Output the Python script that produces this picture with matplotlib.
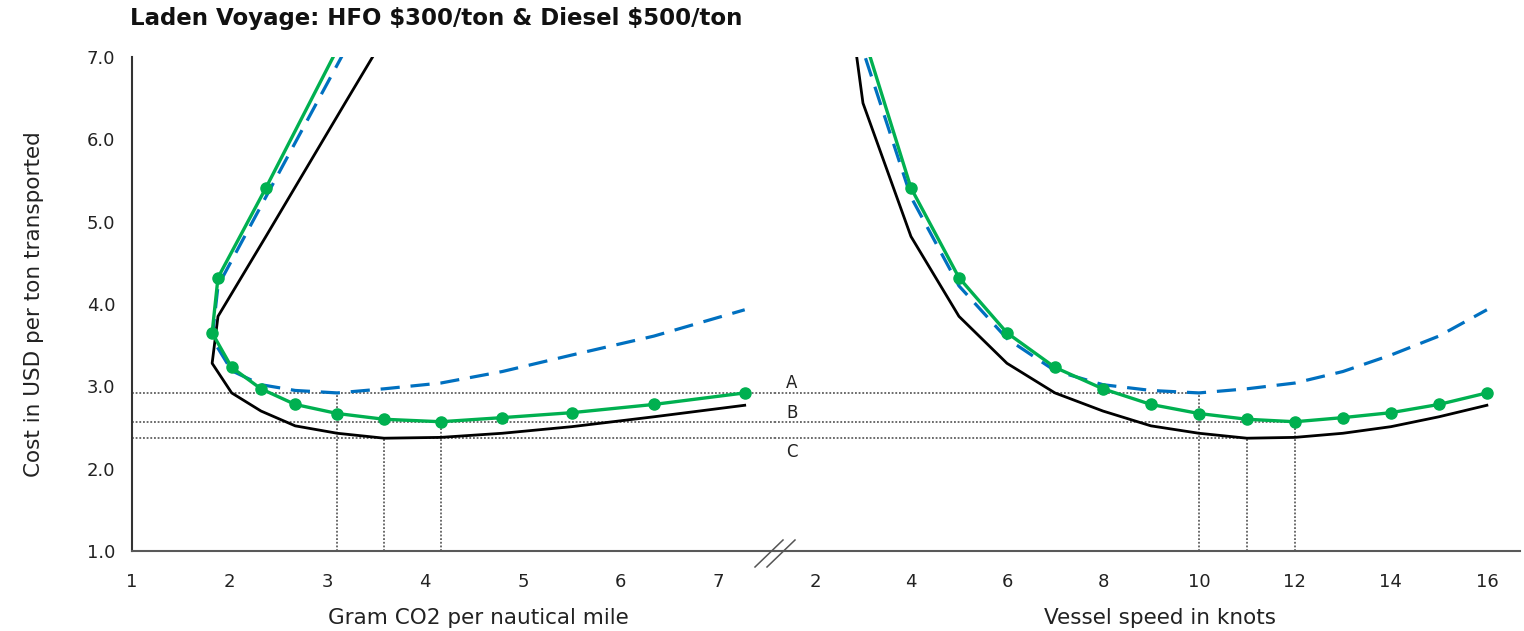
import matplotlib.pyplot as plt

# speed (knots) and the matching CO2 per nautical mile
speed = [2, 3, 4, 5, 6, 7, 8, 9, 10, 11, 12, 13, 14, 15, 16]
co2 = [5.35, 3.18, 2.37, 1.88, 1.82, 2.02, 2.32, 2.67, 3.10, 3.58, 4.16, 4.79, 5.50, 6.34, 7.27]

# cost in USD per ton transported
cost_black = [10.75, 6.44, 4.82, 3.85, 3.28, 2.92, 2.70, 2.52, 2.43, 2.37, 2.38, 2.43, 2.51, 2.63, 2.77]
cost_blue = [11.50, 7.08, 5.30, 4.22, 3.58, 3.19, 3.02, 2.95, 2.92, 2.97, 3.04, 3.18, 3.38, 3.61, 3.93]
cost_green = [11.90, 7.28, 5.41, 4.32, 3.65, 3.23, 2.97, 2.78, 2.67, 2.60, 2.57, 2.62, 2.68, 2.78, 2.92]

yticks = [1.0, 2.0, 3.0, 4.0, 5.0, 6.0, 7.0]
co2_ticks = [1, 2, 3, 4, 5, 6, 7]
speed_ticks = [2, 4, 6, 8, 10, 12, 14, 16]
ref_labels = ["A", "B", "C"]

GREEN = "#00b050"
BLUE = "#0070c0"
AXC = "#595959"
W, H = 1524, 631

fig = plt.figure(figsize=(W / 100, H / 100), dpi=100)
ax1 = fig.add_axes([132 / W, 80 / H, 643 / W, 494 / H])
ax2 = fig.add_axes([775 / W, 80 / H, 745 / W, 494 / H], sharey=ax1)


def draw_curves(ax, xs):
    ax.plot(xs, cost_black, color="black", lw=2.0, zorder=3)
    ax.plot(xs, cost_blue, color=BLUE, lw=2.3, dashes=(6, 3.4), zorder=4)
    ax.plot(xs, cost_green, color=GREEN, lw=2.4, marker="o", ms=8, zorder=5)


draw_curves(ax1, co2)
draw_curves(ax2, speed)

# minima -> reference lines A (blue), B (green), C (black)
mins = []
for c in (cost_blue, cost_green, cost_black):
    i = c.index(min(c))
    mins.append((c[i], co2[i], speed[i]))

dot = (0, (1.2, 1.2))
for y, x_co2, x_sp in mins:
    ax1.axhline(y, color="#444444", lw=1.1, ls=dot, zorder=2)
    ax2.hlines(y, 1.0, x_sp, color="#444444", lw=1.1, ls=dot, zorder=2)
    ax1.vlines(x_co2, 1.0, y, color="#444444", lw=1.1, ls=dot, zorder=2)
    ax2.vlines(x_sp, 1.0, y, color="#444444", lw=1.1, ls=dot, zorder=2)

label_y = [mins[0][0] + 0.12, mins[1][0] + 0.11, mins[2][0] - 0.17]
for lab, y in zip(ref_labels, label_y):
    ax2.text(1.52, y, lab, fontsize=12, color="#222222", ha="center", va="center")

ax1.set_ylim(1.0, 7.0)
ax1.set_xlim(1, 7.58)
ax2.set_xlim(1.167, 16.69)
ax1.set_yticks(yticks)
ax1.set_yticklabels(["%.1f" % v for v in yticks])
ax1.set_xticks(co2_ticks)
ax2.set_xticks(speed_ticks)

for ax in (ax1, ax2):
    ax.spines["top"].set_visible(False)
    ax.spines["right"].set_visible(False)
    ax.spines["bottom"].set_color(AXC)
    ax.spines["bottom"].set_linewidth(1.5)
    ax.tick_params(axis="x", length=0, pad=16, labelsize=13, labelcolor="#222222")
    ax.tick_params(axis="y", length=0, pad=12, labelsize=13, labelcolor="#222222")
ax1.spines["left"].set_color("#333333")
ax1.spines["left"].set_linewidth(1.5)
ax2.spines["left"].set_visible(False)
ax2.tick_params(axis="y", labelleft=False)

ax1.set_xlabel("Gram CO2 per nautical mile", fontsize=15.5, color="#222222")
ax1.xaxis.set_label_coords(0.539, -0.115)
ax2.set_xlabel("Vessel speed in knots", fontsize=15.5, color="#222222")
ax2.xaxis.set_label_coords(0.517, -0.115)
ax1.set_ylabel("Cost in USD per ton transported", fontsize=15.5, color="#222222")
ax1.yaxis.set_label_coords(-0.137, 0.5)

# axis break marks
for dx in (0, 12):
    fig.add_artist(plt.Line2D([(755 + dx) / W, (783 + dx) / W], [1 - 567 / H, 1 - 540 / H],
                              color="#555555", lw=1.1))

fig.text(130 / W, 1 - 19 / H, r"Laden Voyage: HFO \$300/ton & Diesel \$500/ton",
         fontsize=16.5, fontweight="bold", color="#111111", va="center", ha="left")

fig.savefig("out.png", dpi=100)
